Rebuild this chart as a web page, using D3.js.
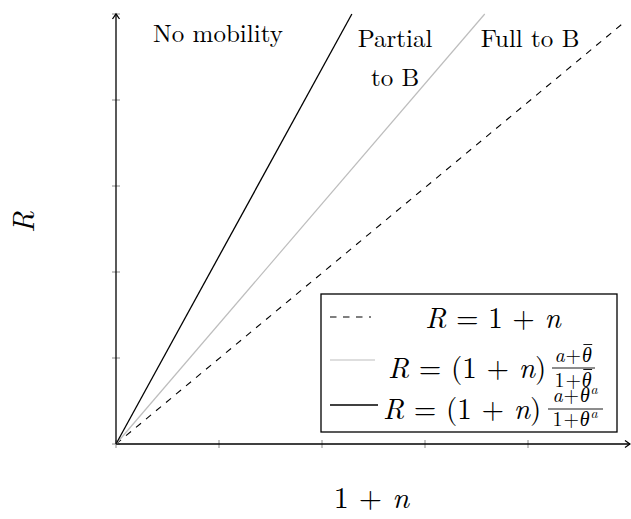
<!doctype html>
<html lang="en">
<head>
<meta charset="UTF-8">
<title>mobility</title>
<script src="https://cdn.jsdelivr.net/npm/d3@7/dist/d3.min.js"></script>
<style>
  body { margin: 0; background: #fff; }
</style>
</head>
<body>
<script>
  var width = 631, height = 519;
  var margin = {left: 116, right: 0, top: 14, bottom: 75};
  var FONT = "Latin Modern Roman, CMU Serif, Liberation Serif, serif";

  // axis ticks (no labels in the original)
  var xTicks = [0, 1, 2, 3, 4];
  var yTicks = [0, 1, 2, 3, 4, 5];

  // line endpoints
  var fullX = [0, 4.94], fullY = [0, 4.91];       // R = 1+n (dashed)
  var partialX = [0, 3.58], partialY = [0, 5];    // gray
  var noMobX = [0, 2.29], noMobY = [0, 5];        // black

  // region labels
  var regionLabels = [
    {lines: ["No mobility"], x: 0.99, y: 4.67},
    {lines: ["Partial", "to B"], x: 2.71, y: 4.62},
    {lines: ["Full to B"], x: 4.02, y: 4.62}
  ];

  var svg = d3.select("body").append("svg")
      .attr("width", width)
      .attr("height", height)
      .attr("font-family", FONT);

  var x = d3.scaleLinear().domain([0, 5]).range([margin.left, width - margin.right]);
  var y = d3.scaleLinear().domain([0, 5]).range([height - margin.bottom, margin.top]);

  // ticks
  svg.selectAll(".xt").data(xTicks).enter().append("line")
      .attr("x1", function(d) { return x(d); }).attr("x2", function(d) { return x(d); })
      .attr("y1", y(0) - 4).attr("y2", y(0) + 4)
      .attr("stroke", "#8a8a8a").attr("stroke-width", 1);
  svg.selectAll(".yt").data(yTicks).enter().append("line")
      .attr("y1", function(d) { return y(d); }).attr("y2", function(d) { return y(d); })
      .attr("x1", x(0) - 4).attr("x2", x(0) + 4)
      .attr("stroke", "#8a8a8a").attr("stroke-width", 1);

  // axis lines with arrows
  svg.append("line").attr("x1", x(0)).attr("y1", y(0)).attr("x2", width - 1).attr("y2", y(0))
      .attr("stroke", "#000").attr("stroke-width", 1.3);
  svg.append("path")
      .attr("d", "M" + (width - 6) + "," + (y(0) - 3.5) + " L" + (width - 1) + "," + y(0) + " L" + (width - 6) + "," + (y(0) + 3.5))
      .attr("fill", "none").attr("stroke", "#000").attr("stroke-width", 1.3);
  svg.append("line").attr("x1", x(0)).attr("y1", y(0)).attr("x2", x(0)).attr("y2", y(5))
      .attr("stroke", "#000").attr("stroke-width", 1.3);
  svg.append("path")
      .attr("d", "M" + (x(0) - 3.5) + "," + (y(5) + 5) + " L" + x(0) + "," + y(5) + " L" + (x(0) + 3.5) + "," + (y(5) + 5))
      .attr("fill", "none").attr("stroke", "#000").attr("stroke-width", 1.3);

  var line = d3.line().x(function(d) { return x(d[0]); }).y(function(d) { return y(d[1]); });
  function pts(xs, ys) { return xs.map(function(v, i) { return [v, ys[i]]; }); }

  svg.append("path").attr("d", line(pts(fullX, fullY)))
      .attr("fill", "none").attr("stroke", "#000").attr("stroke-width", 1.1)
      .attr("stroke-dasharray", "6.5,6.5");
  svg.append("path").attr("d", line(pts(partialX, partialY)))
      .attr("fill", "none").attr("stroke", "#bdbdbd").attr("stroke-width", 1.2);
  svg.append("path").attr("d", line(pts(noMobX, noMobY)))
      .attr("fill", "none").attr("stroke", "#000").attr("stroke-width", 1.3);

  // region labels
  regionLabels.forEach(function(l) {
    l.lines.forEach(function(s, i) {
      svg.append("text").attr("x", x(l.x)).attr("y", y(l.y) + i * 39)
          .attr("text-anchor", "middle").attr("font-size", 25).text(s);
    });
  });

  function mathText(xpos, ypos, size, parts, anchor) {
    var t = svg.append("text").attr("x", xpos).attr("y", ypos).attr("font-size", size)
        .attr("text-anchor", anchor || "start");
    parts.forEach(function(p) {
      var s = t.append("tspan").attr("font-style", p[1] ? "italic" : "normal").text(p[0]);
      if (p[2]) s.attr("font-size", size * 0.7).attr("dy", -size * 0.38);
    });
    return t;
  }

  // axis labels
  mathText(x(2.48), 508, 30, [["1 + ", 0], ["n", 1]], "middle");
  svg.append("text").attr("transform", "translate(34," + y(2.58) + ") rotate(-90)")
      .attr("text-anchor", "middle").attr("font-size", 30).attr("font-style", "italic").text("R");

  // legend
  var lg = {x0: 321, y0: 294, x1: 617, y1: 432};
  svg.append("rect").attr("x", lg.x0).attr("y", lg.y0)
      .attr("width", lg.x1 - lg.x0).attr("height", lg.y1 - lg.y0)
      .attr("fill", "#fff").attr("stroke", "#000").attr("stroke-width", 1.3);

  var legendRows = [
    {y: 317, color: "#000", dash: "6.5,6.5", w: 1.1, x2: 371},
    {y: 360, color: "#bdbdbd", dash: null, w: 1.2, x2: 375},
    {y: 405, color: "#000", dash: null, w: 1.3, x2: 378}
  ];
  legendRows.forEach(function(r) {
    svg.append("line").attr("x1", 330).attr("x2", r.x2).attr("y1", r.y).attr("y2", r.y)
        .attr("stroke", r.color).attr("stroke-width", r.w)
        .attr("stroke-dasharray", r.dash);
  });

  // row 1
  mathText(493, 328, 29, [["R", 1], [" = 1 + ", 0], ["n", 1]], "middle");
  // rows 2 and 3: R = (1+n) times a fraction
  mathText(388, 378, 29, [["R", 1], [" = (1 + ", 0], ["n", 1], [")", 0]]);
  mathText(383, 419, 29, [["R", 1], [" = (1 + ", 0], ["n", 1], [")", 0]]);

  function frac(xl, xr, barY, numBase, denBase, num, den, bar) {
    svg.append("line").attr("x1", xl).attr("x2", xr).attr("y1", barY).attr("y2", barY)
        .attr("stroke", "#000").attr("stroke-width", 0.9);
    var cx = (xl + xr) / 2;
    [[num, numBase], [den, denBase]].forEach(function(q) {
      var t = mathText(cx, q[1], 20, q[0], "middle").attr("letter-spacing", 0.8);
      if (bar) {
        // overline on the theta
        var node = t.node();
        var n = node.getNumberOfChars();
        for (var i = 0; i < n; i++) {
          if (node.textContent.charAt(i) === "θ") {
            var e = node.getExtentOfChar(i);
            svg.append("line").attr("x1", e.x + 1.5).attr("x2", e.x + e.width - 0.3)
                .attr("y1", q[1] - 17.5).attr("y2", q[1] - 17.5)
                .attr("stroke", "#000").attr("stroke-width", 0.9);
          }
        }
      }
    });
  }
  frac(552, 595, 368, 362, 387, [["a", 1], ["+", 0], ["θ", 1]], [["1+", 0], ["θ", 1]], true);
  frac(548, 603, 409, 402, 426, [["a", 1], ["+", 0], ["θ", 1], ["a", 1, 1]], [["1+", 0], ["θ", 1], ["a", 1, 1]], false);
</script>
</body>
</html>
